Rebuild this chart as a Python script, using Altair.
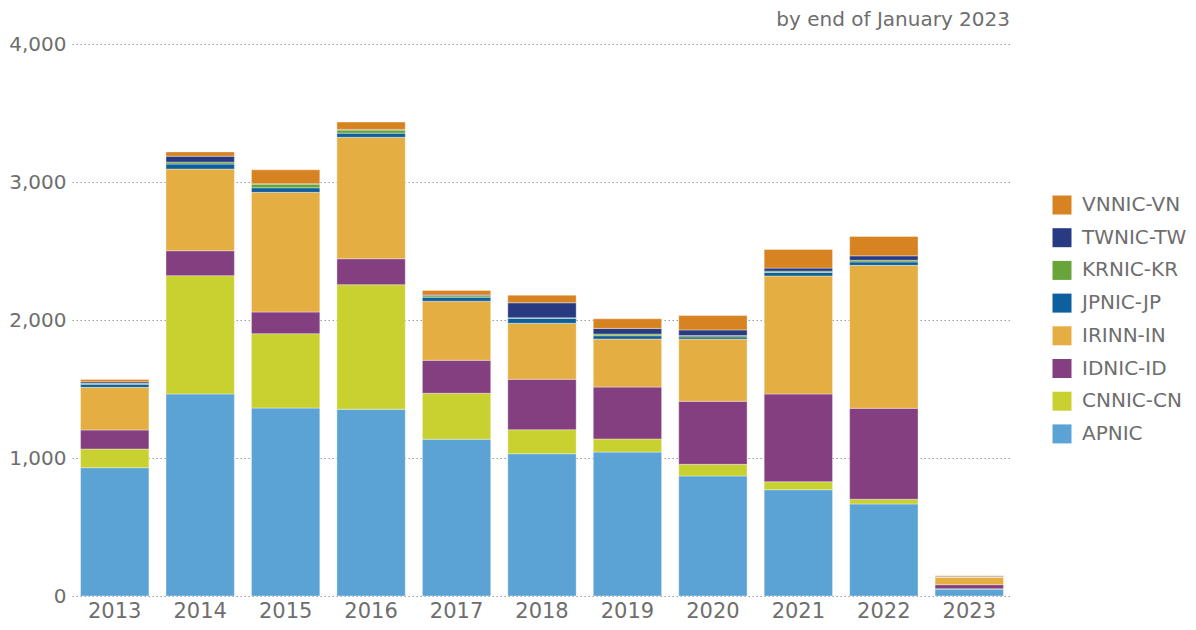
import altair as alt
import pandas as pd

years = ["2013", "2014", "2015", "2016", "2017", "2018", "2019", "2020", "2021", "2022", "2023"]
series = ["APNIC", "CNNIC-CN", "IDNIC-ID", "IRINN-IN", "JPNIC-JP", "KRNIC-KR", "TWNIC-TW", "VNNIC-VN"]
colors = ["#5ba3d5", "#c9d131", "#843f81", "#e5ae43", "#0d5f9e", "#69a43b", "#283b82", "#d88322"]
title_text = ["by end of January 2023"]

apnic = [930, 1464, 1362, 1353, 1136, 1031, 1043, 870, 770, 667, 50]
cnnic = [135, 857, 539, 903, 333, 174, 95, 84, 58, 34, 2]
idnic = [138, 181, 157, 188, 239, 365, 376, 457, 636, 659, 30]
irinn = [309, 592, 867, 880, 428, 406, 348, 451, 855, 1036, 52]
jpnic = [22, 36, 33, 30, 29, 36, 24, 15, 25, 25, 3]
krnic = [7, 14, 27, 22, 11, 4, 12, 10, 10, 12, 1]
twnic = [11, 43, 2, 5, 5, 109, 41, 41, 22, 32, 1]
vnnic = [16, 31, 101, 53, 33, 55, 70, 104, 135, 140, 8]

values = [apnic, cnnic, idnic, irinn, jpnic, krnic, twnic, vnnic]

rows = []
for si, (name, vals) in enumerate(zip(series, values)):
    for y, v in zip(years, vals):
        rows.append({"year": y, "registry": name, "count": v, "idx": si})
df = pd.DataFrame(rows)

FONT = "DejaVu Sans"
GREY = "#6e6e6e"

bars = (
    alt.Chart(df)
    .mark_bar(stroke="white", strokeWidth=0.6, strokeOpacity=0.6)
    .encode(
        x=alt.X(
            "year:N",
            title=None,
            scale=alt.Scale(paddingInner=0.2, paddingOuter=0.1),
            axis=alt.Axis(
                labelAngle=0,
                domain=False,
                ticks=False,
                labelFontSize=21,
                labelColor=GREY,
                labelFont=FONT,
                labelPadding=4,
            ),
        ),
        y=alt.Y(
            "count:Q",
            title=None,
            stack="zero",
            scale=alt.Scale(domain=[0, 4000], nice=False),
            axis=alt.Axis(
                values=[0, 1000, 2000, 3000, 4000],
                format=",d",
                domain=False,
                ticks=False,
                grid=True,
                gridColor="#9a9a9a",
                gridDash=[1.5, 2.5],
                gridWidth=1.1,
                labelFontSize=20,
                labelColor=GREY,
                labelFont=FONT,
                labelPadding=6,
            ),
        ),
        color=alt.Color(
            "registry:N",
            sort=list(reversed(series)),
            scale=alt.Scale(domain=list(reversed(series)), range=list(reversed(colors))),
            legend=alt.Legend(
                title=None,
                orient="none",
                legendX=980,
                legendY=151,
                symbolType="square",
                symbolSize=361,
                symbolStrokeWidth=0,
                labelFontSize=20,
                labelColor=GREY,
                labelFont=FONT,
                labelOffset=10,
                rowPadding=12.7,
                labelLimit=200,
            ),
        ),
        order=alt.Order("idx:Q", sort="ascending"),
    )
)

title = (
    alt.Chart(pd.DataFrame({"t": title_text}))
    .mark_text(
        align="right",
        baseline="alphabetic",
        fontSize=20,
        font=FONT,
        color=GREY,
    )
    .encode(x=alt.value(938), y=alt.value(-18), text="t:N")
)

chart = (
    alt.layer(bars, title)
    .properties(
        width=940,
        height=552,
        autosize=alt.AutoSizeParams(type="none"),
        padding={"left": 64, "top": 36, "right": 176, "bottom": 26},
    )
    .configure_view(stroke=None)
)

chart.save("out.html", embed_options={"renderer": "svg", "actions": False})
